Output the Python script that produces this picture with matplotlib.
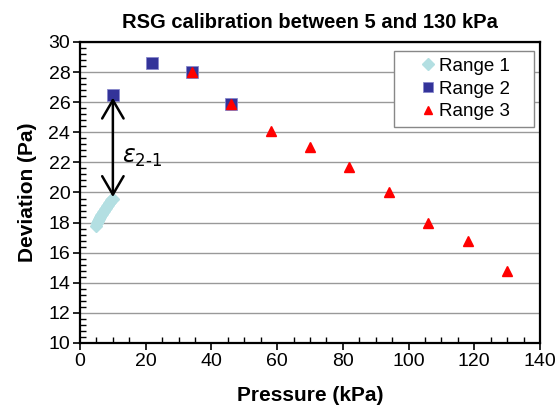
import numpy as np
import matplotlib.pyplot as plt
from matplotlib.patches import Rectangle
from matplotlib.ticker import MultipleLocator

plt.rcParams["font.family"] = ["Liberation Sans", "DejaVu Sans"]

# --- data --------------------------------------------------------------
r1_p = [5.0, 5.3, 5.6, 5.9, 6.2, 6.5, 6.8, 7.1, 7.4, 7.7, 8.0, 8.3, 8.6, 8.9, 9.2, 9.5, 9.8, 10.0]
r1_d = [17.8, 17.95, 18.1, 18.25, 18.4, 18.5, 18.6, 18.7, 18.8, 18.9, 19.0, 19.1, 19.2, 19.3, 19.4, 19.5, 19.55, 19.6]

r2_p = [10, 22, 34, 46]
r2_d = [26.5, 28.6, 28.0, 25.9]

r3_p = [34, 46, 58, 70, 82, 94, 106, 118, 130]
r3_d = [28.0, 25.9, 24.1, 23.0, 21.7, 20.0, 18.0, 16.8, 14.8]

arrow_p = 10
arrow_top, arrow_bot = 26.3, 19.7

fig = plt.figure(figsize=(5.58, 4.17), dpi=100)
ax = fig.add_axes([0.1434, 0.1775, 0.8243, 0.7218])

ax.plot(r1_p, r1_d, linestyle="none", marker="D", markersize=6.5,
        color="#b3dfe2", label="Range 1")
ax.plot(r2_p, r2_d, linestyle="none", marker="s", markersize=8,
        color="#333399", markeredgecolor="#8888cc", markeredgewidth=0.6, label="Range 2")
ax.plot(r3_p, r3_d, linestyle="none", marker="^", markersize=6.5,
        color="#ff0000", label="Range 3")

ax.annotate("", xy=(arrow_p, arrow_top), xytext=(arrow_p, arrow_bot),
            arrowprops=dict(arrowstyle="<->,head_length=0.6,head_width=0.35",
                            color="black", lw=1.8,
                            mutation_scale=22, shrinkA=0, shrinkB=0))
ax.text(12.8, 22.3, r"$\varepsilon_{\mathrm{2\text{-}1}}$", fontsize=17, va="center")

ax.set_xlim(0, 140)
ax.set_ylim(10, 30)
ax.xaxis.set_major_locator(MultipleLocator(20))
ax.xaxis.set_minor_locator(MultipleLocator(5))
ax.yaxis.set_major_locator(MultipleLocator(2))
ax.yaxis.set_minor_locator(MultipleLocator(0.4))
ax.tick_params(which="major", direction="out", length=5, width=1.2, labelsize=14, pad=2)
ax.tick_params(which="minor", direction="in", length=4, width=1)
ax.grid(axis="y", which="major", color="#999999", linewidth=1)
ax.set_axisbelow(True)
for s in ax.spines.values():
    s.set_linewidth(1.6)

ax.set_xlabel("Pressure (kPa)", fontsize=15, fontweight="bold", labelpad=12)
ax.set_ylabel("Deviation (Pa)", fontsize=15, fontweight="bold", labelpad=8)
ax.set_title("RSG calibration between 5 and 130 kPa", fontsize=14.5,
             fontweight="bold", pad=10)

# Excel-style legend box: wider than its content, entries centred
box = Rectangle((0.683, 0.718), 0.304, 0.252, transform=ax.transAxes,
                facecolor="white", edgecolor="#888888", linewidth=1, zorder=4)
ax.add_patch(box)
leg = ax.legend(loc="center", bbox_to_anchor=(0.835, 0.844), fontsize=13.5,
                frameon=False, handletextpad=0.1, handlelength=1,
                labelspacing=0.3, borderpad=0.3, markerscale=0.9)
leg.set_zorder(5)

fig.savefig("out.png", dpi=100)
